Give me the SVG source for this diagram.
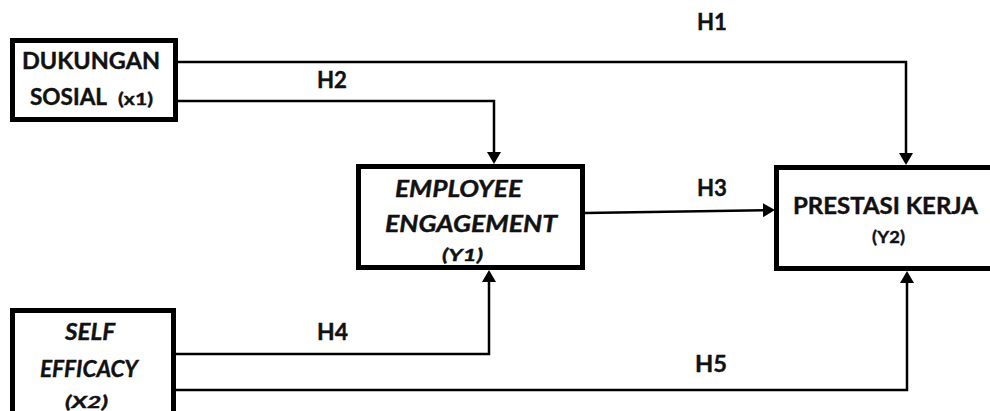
<svg xmlns="http://www.w3.org/2000/svg" width="990" height="411" viewBox="0 0 990 411">
<style>
.box{fill:#fff;stroke:#000;stroke-width:5}
.t{font-family:Lato,"Open Sans","Liberation Sans",sans-serif;font-weight:bold;font-size:23px;fill:#111;stroke:#111;stroke-width:0.4}
.s{font-size:17px}
.i{font-style:italic}
.c{fill:none;stroke:#000;stroke-width:2.5}
</style>
<defs>
<marker id="ah" markerUnits="userSpaceOnUse" viewBox="0 0 12 14" refX="6" refY="7" markerWidth="12" markerHeight="14" orient="auto">
<path d="M0,0 L12,7 L0,14 z" fill="#000"/>
</marker>
</defs>
<rect width="990" height="411" fill="#fff"/>
<g id="connectors">
<path class="c" d="M178,62 H906 V159" marker-end="url(#ah)"/>
<path class="c" d="M178,101 H494 V158" marker-end="url(#ah)"/>
<path class="c" d="M585,213 L769,210.1" marker-end="url(#ah)"/>
<path class="c" d="M176,354 H489 V276" marker-end="url(#ah)"/>
<path class="c" d="M176,390 H907 V277" marker-end="url(#ah)"/>
</g>
<g id="node-x1">
<rect class="box" x="12.5" y="40.5" width="163" height="79"/>
<text class="t" x="22" y="69" textLength="138" lengthAdjust="spacingAndGlyphs">DUKUNGAN</text>
<text class="t" x="30" y="105" textLength="77" lengthAdjust="spacingAndGlyphs">SOSIAL</text>
<text class="t s" x="118" y="105" textLength="35" lengthAdjust="spacingAndGlyphs">(x1)</text>
</g>
<g id="node-y1">
<rect class="box" x="358.5" y="166.5" width="224" height="101"/>
<text class="t i" x="395" y="197" textLength="127" lengthAdjust="spacingAndGlyphs">EMPLOYEE</text>
<text class="t i" x="385" y="232" textLength="172" lengthAdjust="spacingAndGlyphs">ENGAGEMENT</text>
<text class="t i s" x="442" y="261" textLength="41" lengthAdjust="spacingAndGlyphs">(Y1)</text>
</g>
<g id="node-y2">
<rect class="box" x="776.5" y="167.5" width="230" height="101"/>
<text class="t" x="793" y="214" textLength="185" lengthAdjust="spacingAndGlyphs">PRESTASI KERJA</text>
<text class="t s" x="872" y="243" textLength="33" lengthAdjust="spacingAndGlyphs">(Y2)</text>
</g>
<g id="node-x2">
<rect class="box" x="12.5" y="310.5" width="161" height="120"/>
<text class="t i" x="65" y="340" textLength="50" lengthAdjust="spacingAndGlyphs">SELF</text>
<text class="t i" x="40" y="377" textLength="98" lengthAdjust="spacingAndGlyphs">EFFICACY</text>
<text class="t i s" x="65" y="408" textLength="43" lengthAdjust="spacingAndGlyphs">(X2)</text>
</g>
<g id="labels">
<text class="t" x="697" y="30" textLength="30" lengthAdjust="spacingAndGlyphs">H1</text>
<text class="t" x="317" y="88" textLength="30" lengthAdjust="spacingAndGlyphs">H2</text>
<text class="t" x="697" y="196" textLength="30" lengthAdjust="spacingAndGlyphs">H3</text>
<text class="t" x="317" y="340" textLength="31" lengthAdjust="spacingAndGlyphs">H4</text>
<text class="t" x="695" y="372" textLength="32" lengthAdjust="spacingAndGlyphs">H5</text>
</g>
</svg>
